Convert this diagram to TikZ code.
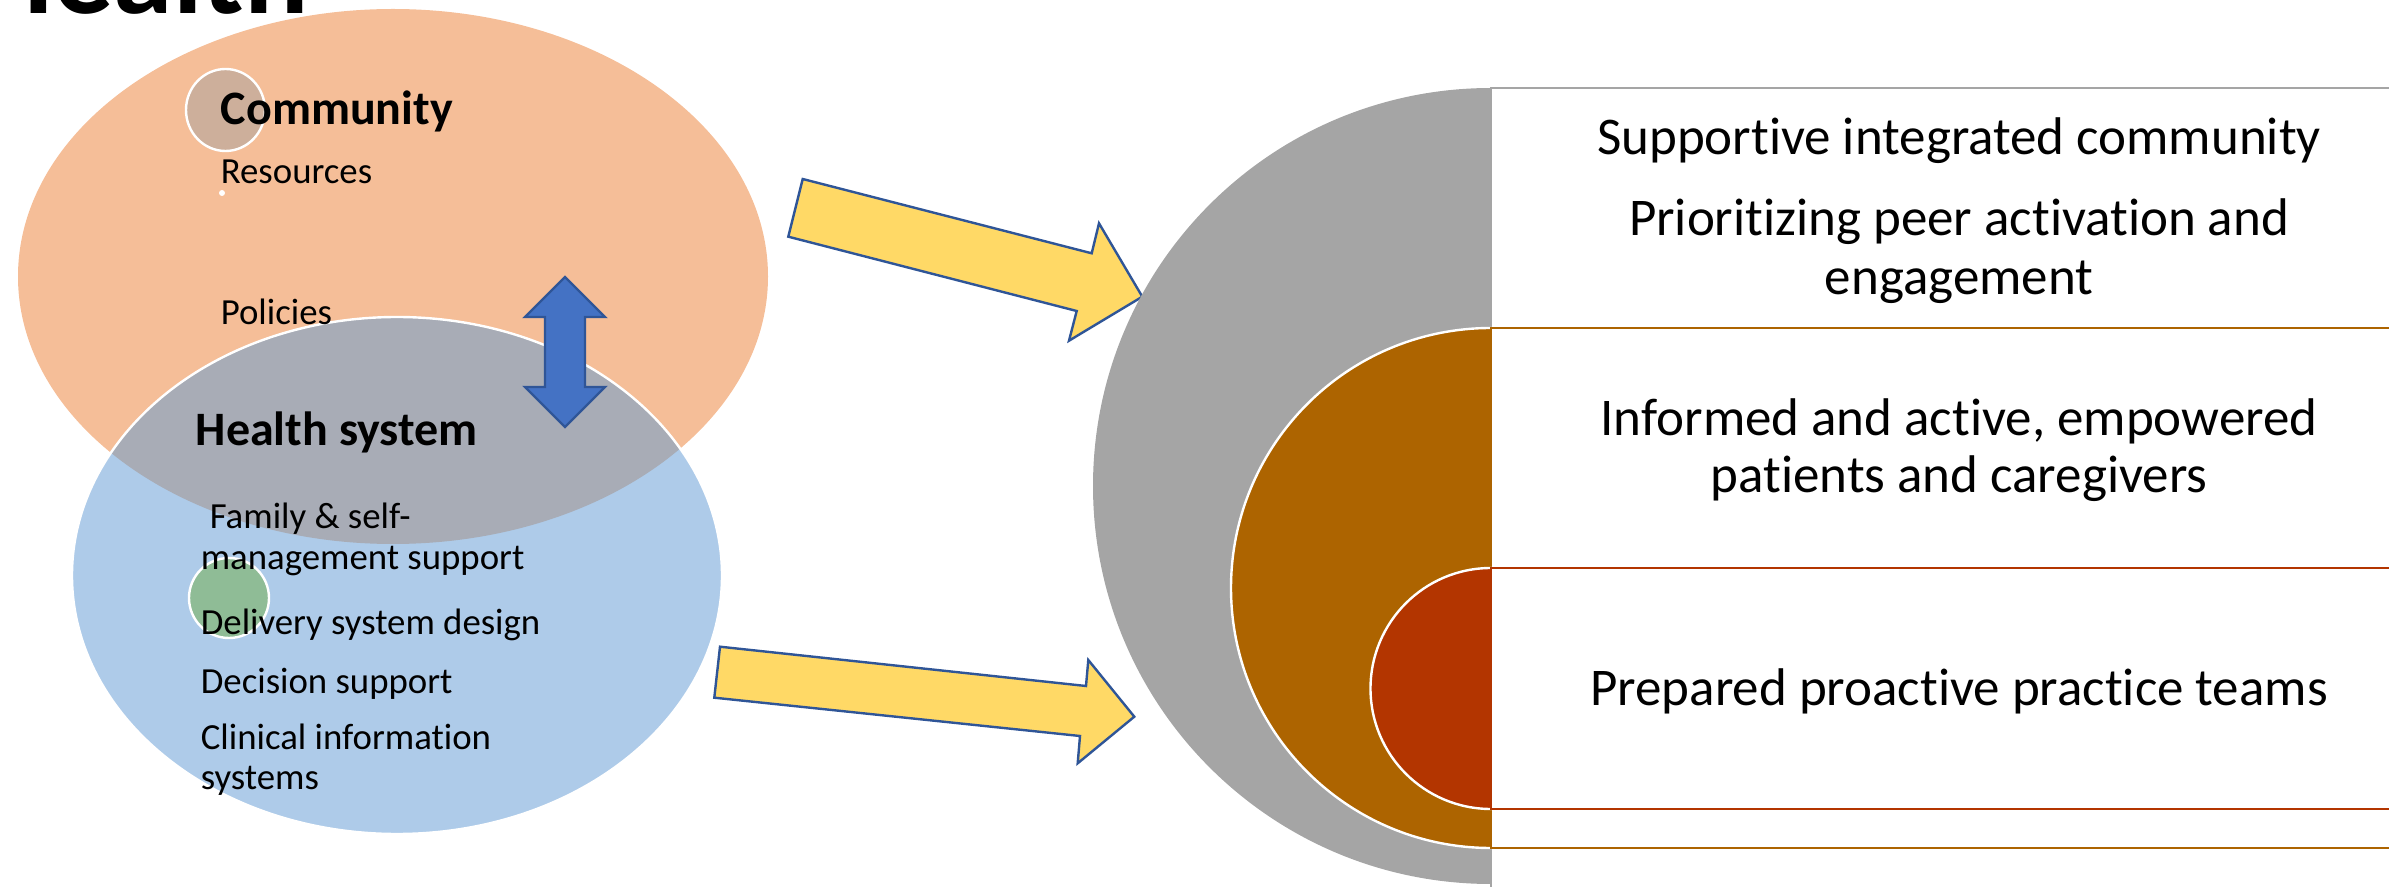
\documentclass[tikz,border=0pt]{standalone}
\usepackage{fontspec}
\setmainfont[Ligatures=NoCommon]{Carlito}
\definecolor{orangeC}{HTML}{F5BE98}
\definecolor{blueC}{HTML}{AECBE9}
\definecolor{overlapC}{HTML}{A8ACB6}
\definecolor{tanC}{HTML}{CDAF9B}
\definecolor{greenC}{HTML}{8FBC96}
\definecolor{dblueC}{HTML}{4472C4}
\definecolor{edgeBlue}{HTML}{2F5597}
\definecolor{yellowC}{HTML}{FFD966}
\definecolor{grayC}{HTML}{A5A5A5}
\definecolor{brownC}{HTML}{AD6400}
\definecolor{redC}{HTML}{B33500}
\begin{document}
\begin{tikzpicture}[x=0.25pt,y=-0.25pt,
  lt/.style={font=\fontsize{9.2pt}{10.25pt}\selectfont, inner sep=0pt, anchor=base west},
  bt/.style={font=\bfseries\fontsize{12pt}{14pt}\selectfont, inner sep=0pt, anchor=base west},
  rt/.style={font=\fontsize{13.25pt}{14.5pt}\selectfont, inner sep=0pt, anchor=base},
  yarrow/.style={fill=yellowC, draw=edgeBlue, line width=0.6pt, line join=miter},
  dotc/.style={draw=white, line width=0.6pt},
  band/.style={fill=white, line width=0.5pt}
]
\useasboundingbox (0,0) rectangle (2389,887);
\clip (0,0) rectangle (2389,887);

% title remnant
\node[anchor=base west, inner sep=0pt, font=\bfseries\fontsize{30pt}{30pt}\selectfont] (title) at (-23,14) {Health};

% Venn
\fill[orangeC] (393,276.5) ellipse[x radius=375, y radius=267.5];
\fill[blueC] (397,575.5) ellipse[x radius=325, y radius=258.5];
\begin{scope}
  \clip (393,276.5) ellipse[x radius=375, y radius=267.5];
  \fill[overlapC] (397,575.5) ellipse[x radius=325, y radius=258.5];
\end{scope}
\draw[white, line width=0.6pt] (397,575.5) ellipse[x radius=325, y radius=258.5];

\draw[dotc, fill=tanC] (225.5,110) ellipse[x radius=39.5, y radius=41];
\draw[dotc, fill=greenC] (229,598) ellipse[x radius=40, y radius=40];
\fill[white] (222,193) circle[radius=3];

% double arrow
\draw[fill=dblueC, draw=edgeBlue, line width=0.6pt, line join=miter]
  (565,277) -- (605,317) -- (585,317) -- (585,387) -- (605,387) -- (565,427)
  -- (525,387) -- (545,387) -- (545,317) -- (525,317) -- cycle;

% left texts
\node[bt] (community) at (220,125) {Community};
\node[lt] (resources) at (220,184) {Resources};
\node[lt] (policies) at (220,325) {Policies};
\node[bt] (health) at (195,446) {Health system};
\node[lt] (fam1) at (209,529) {Family \& self-};
\node[lt] (fam2) at (200,570) {management support};
\node[lt] (deliv) at (200,635) {Delivery system design};
\node[lt] (decis) at (200,694) {Decision support};
\node[lt] (clin1) at (200,749) {Clinical information};
\node[lt] (clin2) at (200,789) {systems};

% yellow arrows
\draw[yarrow] (802.7,179) -- (1091.7,253.3) -- (1099,223.3) -- (1142.3,296.7)
  -- (1069,340.7) -- (1076.7,311) -- (788.3,236.7) -- cycle;
\draw[yarrow] (720,646.7) -- (1086,686) -- (1088.3,660) -- (1134.3,716.7)
  -- (1077.7,763.3) -- (1080,736) -- (714.3,697.7) -- cycle;

% nested target
\fill[grayC] (1491,486) circle[radius=398];
\draw[band, draw=grayC] (1491,88) rectangle (2427,960);
\draw[dotc, fill=brownC] (1491,588) circle[radius=260];
\draw[band, draw=brownC] (1491,328) rectangle (2427,848);
\draw[dotc, fill=redC] (1491,688.5) circle[radius=120.5];
\draw[band, draw=redC] (1491,568) rectangle (2427,809);

% right texts
\node[rt] (t1) at (1959,155) {Supportive integrated community};
\node[rt] (t2a) at (1959,236) {Prioritizing peer activation and};
\node[rt] (t2b) at (1959,295) {engagement};
\node[rt] (t3a) at (1959,436) {Informed and active, empowered};
\node[rt] (t3b) at (1959,493) {patients and caregivers};
\node[rt] (t4) at (1959,705) {Prepared proactive practice teams};
\end{tikzpicture}
\end{document}
